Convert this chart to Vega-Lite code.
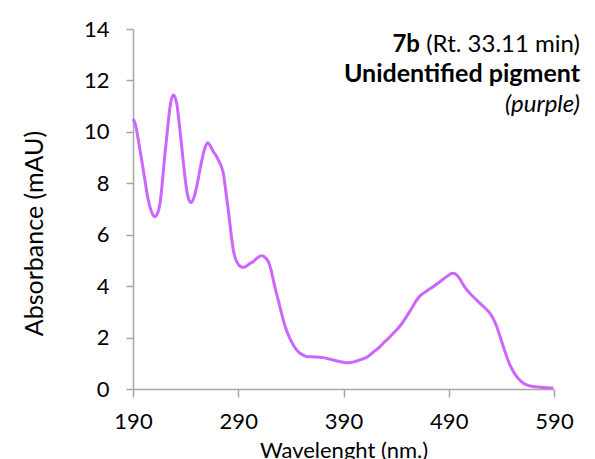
{
  "$schema": "https://vega.github.io/schema/vega-lite/v6.json",
  "autosize": {"type": "none"},
  "width": 421,
  "height": 360,
  "padding": {"left": 133, "top": 29, "right": 41, "bottom": 70},
  "background": "white",
  "config": {"view": {"stroke": null}, "font": "Lato"},
  "layer": [
    {
      "data": {"values": [
        {"wavelength": 190, "absorbance": 10.5},
        {"wavelength": 192, "absorbance": 10.33},
        {"wavelength": 196, "absorbance": 9.45},
        {"wavelength": 199.8, "absorbance": 8.52},
        {"wavelength": 204.5, "absorbance": 7.35},
        {"wavelength": 208, "absorbance": 6.85},
        {"wavelength": 211, "absorbance": 6.7},
        {"wavelength": 213.5, "absorbance": 6.85},
        {"wavelength": 215.7, "absorbance": 7.22},
        {"wavelength": 218, "absorbance": 8.1},
        {"wavelength": 220.4, "absorbance": 9.16},
        {"wavelength": 222.8, "absorbance": 10.1},
        {"wavelength": 225.2, "absorbance": 10.98},
        {"wavelength": 228.3, "absorbance": 11.43},
        {"wavelength": 231.5, "absorbance": 11.11},
        {"wavelength": 234, "absorbance": 10.3},
        {"wavelength": 236.3, "absorbance": 9.42},
        {"wavelength": 238.5, "absorbance": 8.55},
        {"wavelength": 241, "absorbance": 7.74},
        {"wavelength": 243, "absorbance": 7.37},
        {"wavelength": 245.1, "absorbance": 7.25},
        {"wavelength": 247.5, "absorbance": 7.4},
        {"wavelength": 250.5, "absorbance": 7.87},
        {"wavelength": 253.5, "absorbance": 8.5},
        {"wavelength": 256.2, "absorbance": 9.04},
        {"wavelength": 258.5, "absorbance": 9.4},
        {"wavelength": 261, "absorbance": 9.58},
        {"wavelength": 263.5, "absorbance": 9.45},
        {"wavelength": 266.3, "absorbance": 9.23},
        {"wavelength": 268.5, "absorbance": 9.1},
        {"wavelength": 271, "absorbance": 8.91},
        {"wavelength": 273.5, "absorbance": 8.7},
        {"wavelength": 275.8, "absorbance": 8.39},
        {"wavelength": 278, "absorbance": 7.75},
        {"wavelength": 280.5, "absorbance": 6.96},
        {"wavelength": 283, "absorbance": 6.1},
        {"wavelength": 285.3, "absorbance": 5.41},
        {"wavelength": 287.5, "absorbance": 5.05},
        {"wavelength": 290, "absorbance": 4.85},
        {"wavelength": 292.5, "absorbance": 4.76},
        {"wavelength": 294.8, "absorbance": 4.73},
        {"wavelength": 298, "absorbance": 4.78},
        {"wavelength": 301, "absorbance": 4.88},
        {"wavelength": 304.3, "absorbance": 4.95},
        {"wavelength": 308, "absorbance": 5.1},
        {"wavelength": 312.3, "absorbance": 5.18},
        {"wavelength": 315.5, "absorbance": 5.12},
        {"wavelength": 318.6, "absorbance": 4.95},
        {"wavelength": 321, "absorbance": 4.65},
        {"wavelength": 323.3, "absorbance": 4.24},
        {"wavelength": 325.5, "absorbance": 3.85},
        {"wavelength": 328, "absorbance": 3.46},
        {"wavelength": 330.5, "absorbance": 3.05},
        {"wavelength": 332.8, "absorbance": 2.68},
        {"wavelength": 335, "absorbance": 2.38},
        {"wavelength": 337.6, "absorbance": 2.1},
        {"wavelength": 340, "absorbance": 1.88},
        {"wavelength": 342.3, "absorbance": 1.71},
        {"wavelength": 345.5, "absorbance": 1.52},
        {"wavelength": 348.7, "absorbance": 1.39},
        {"wavelength": 352, "absorbance": 1.31},
        {"wavelength": 355, "absorbance": 1.26},
        {"wavelength": 360, "absorbance": 1.25},
        {"wavelength": 365, "absorbance": 1.24},
        {"wavelength": 370.8, "absorbance": 1.22},
        {"wavelength": 375, "absorbance": 1.18},
        {"wavelength": 380.3, "absorbance": 1.13},
        {"wavelength": 385, "absorbance": 1.08},
        {"wavelength": 390, "absorbance": 1.04},
        {"wavelength": 393, "absorbance": 1.02},
        {"wavelength": 397, "absorbance": 1.03},
        {"wavelength": 402.5, "absorbance": 1.09},
        {"wavelength": 407, "absorbance": 1.15},
        {"wavelength": 412, "absorbance": 1.23},
        {"wavelength": 418, "absorbance": 1.42},
        {"wavelength": 424.7, "absorbance": 1.65},
        {"wavelength": 429, "absorbance": 1.83},
        {"wavelength": 434.2, "absorbance": 2.03},
        {"wavelength": 439, "absorbance": 2.24},
        {"wavelength": 443.7, "absorbance": 2.45},
        {"wavelength": 448, "absorbance": 2.7},
        {"wavelength": 452, "absorbance": 2.95},
        {"wavelength": 456, "absorbance": 3.22},
        {"wavelength": 459.5, "absorbance": 3.46},
        {"wavelength": 463, "absorbance": 3.63},
        {"wavelength": 465.8, "absorbance": 3.72},
        {"wavelength": 470, "absorbance": 3.84},
        {"wavelength": 475.3, "absorbance": 3.98},
        {"wavelength": 480, "absorbance": 4.12},
        {"wavelength": 484, "absorbance": 4.25},
        {"wavelength": 488, "absorbance": 4.37},
        {"wavelength": 491, "absorbance": 4.46},
        {"wavelength": 493.7, "absorbance": 4.5},
        {"wavelength": 496.5, "absorbance": 4.47},
        {"wavelength": 499, "absorbance": 4.37},
        {"wavelength": 502, "absorbance": 4.18},
        {"wavelength": 505, "absorbance": 3.98},
        {"wavelength": 510, "absorbance": 3.72},
        {"wavelength": 515, "absorbance": 3.52},
        {"wavelength": 519.7, "absorbance": 3.33},
        {"wavelength": 524.5, "absorbance": 3.15},
        {"wavelength": 529.2, "absorbance": 2.94},
        {"wavelength": 532.5, "absorbance": 2.72},
        {"wavelength": 535.6, "absorbance": 2.42},
        {"wavelength": 538.7, "absorbance": 2.05},
        {"wavelength": 541.8, "absorbance": 1.65},
        {"wavelength": 545, "absorbance": 1.27},
        {"wavelength": 548.2, "absorbance": 0.93},
        {"wavelength": 551.4, "absorbance": 0.68},
        {"wavelength": 554.6, "absorbance": 0.48},
        {"wavelength": 559, "absorbance": 0.29},
        {"wavelength": 564, "absorbance": 0.16},
        {"wavelength": 570, "absorbance": 0.1},
        {"wavelength": 576.7, "absorbance": 0.07},
        {"wavelength": 583, "absorbance": 0.05},
        {"wavelength": 589.3, "absorbance": 0.04}
      ]},
      "mark": {"type": "line", "color": "#CC66FF", "strokeWidth": 3, "interpolate": "monotone"},
      "encoding": {
        "x": {
          "field": "wavelength", "type": "quantitative",
          "scale": {"domain": [190, 590], "nice": false, "zero": false},
          "axis": {
            "values": [190, 290, 390, 490, 590],
            "grid": false, "labelFlush": false,
            "domainColor": "#A6A6A6", "domainWidth": 1.5,
            "tickColor": "#A6A6A6", "tickWidth": 1.5, "tickSize": 8,
            "labelFontSize": 22, "labelColor": "#000000", "labelPadding": 14,
            "title": "Wavelenght (nm.)", "titleFontSize": 22, "titleFontWeight": "normal",
            "titleColor": "#000000", "titleBaseline": "alphabetic", "titleY": 68
          }
        },
        "y": {
          "field": "absorbance", "type": "quantitative",
          "scale": {"domain": [0, 14], "nice": false},
          "axis": {
            "values": [0, 2, 4, 6, 8, 10, 12, 14],
            "grid": false, "labelFlush": false,
            "domainColor": "#A6A6A6", "domainWidth": 1.5,
            "tickColor": "#A6A6A6", "tickWidth": 1.5, "tickSize": 7,
            "labelFontSize": 22, "labelColor": "#000000", "labelPadding": 17,
            "title": "Absorbance (mAU)", "titleFontSize": 25, "titleFontWeight": "normal",
            "titleColor": "#000000", "titleAngle": -90, "titleAlign": "center",
            "titleBaseline": "middle", "titleX": -99, "titleY": 204
          }
        }
      }
    },
    {
      "data": {"values": [{"label": "(Rt. 33.11 min)"}]},
      "mark": {"type": "text", "align": "right", "baseline": "alphabetic", "fontSize": 24, "dx": 26, "color": "#000000"},
      "encoding": {"x": {"datum": 590}, "y": {"datum": 13.12}, "text": {"field": "label"}}
    },
    {
      "data": {"values": [{"label": "7b"}]},
      "mark": {"type": "text", "align": "right", "baseline": "alphabetic", "fontSize": 24, "fontWeight": "bold", "dx": -134, "color": "#000000"},
      "encoding": {"x": {"datum": 590}, "y": {"datum": 13.12}, "text": {"field": "label"}}
    },
    {
      "data": {"values": [{"label": "Unidentified pigment"}]},
      "mark": {"type": "text", "align": "right", "baseline": "alphabetic", "fontSize": 25, "fontWeight": "bold", "dx": 26, "color": "#000000"},
      "encoding": {"x": {"datum": 590}, "y": {"datum": 11.95}, "text": {"field": "label"}}
    },
    {
      "data": {"values": [{"label": "(purple)"}]},
      "mark": {"type": "text", "align": "right", "baseline": "alphabetic", "fontSize": 24, "fontStyle": "italic", "dx": 26, "color": "#000000"},
      "encoding": {"x": {"datum": 590}, "y": {"datum": 10.77}, "text": {"field": "label"}}
    }
  ]
}
